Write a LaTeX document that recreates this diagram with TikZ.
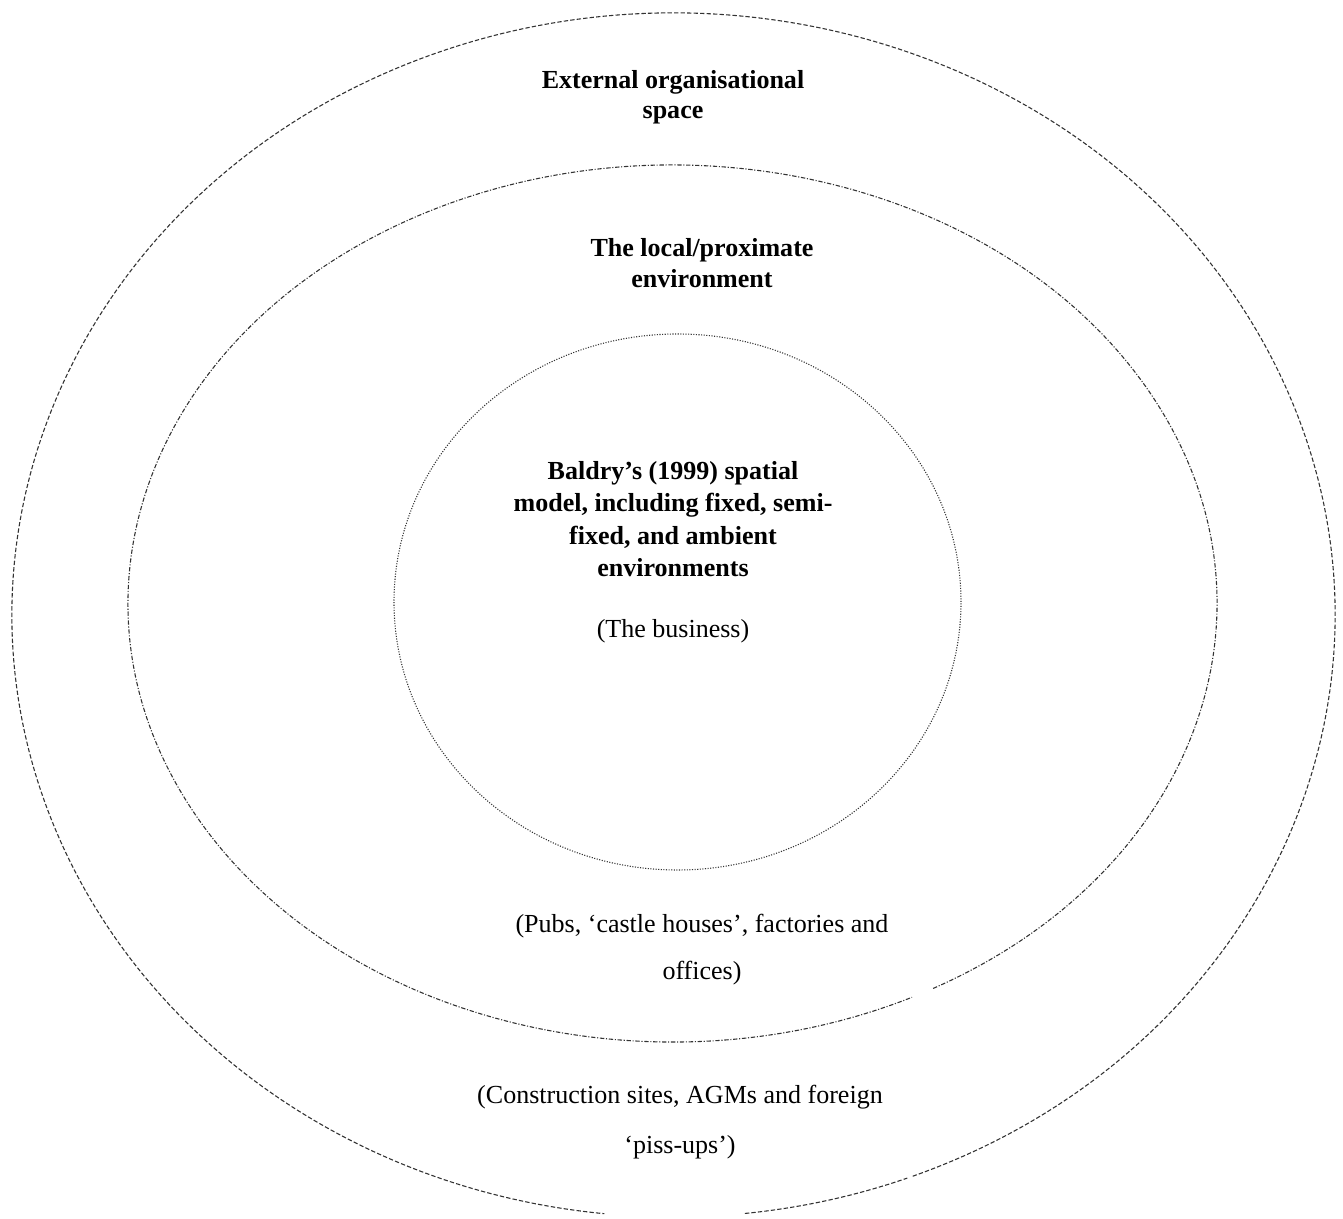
\documentclass[tikz,border=0pt]{standalone}
\usepackage{fontspec}
\setmainfont{Liberation Serif}
\usetikzlibrary{positioning}

\begin{document}
\begin{tikzpicture}[
  x=0.0162cm, y=0.0162cm,
  font=\fontsize{12}{14}\selectfont,
  ring/.style={line width=0.5pt, draw=black!80},
  outerring/.style={ring, dash pattern=on 2pt off 1pt},
  midring/.style={ring, dash pattern=on 2pt off 0.8pt on 0.5pt off 0.8pt},
  innerring/.style={ring, dash pattern=on 0.5pt off 0.7pt},
  head/.style={font=\fontsize{12}{14}\selectfont\bfseries, align=center, inner sep=0pt},
  note/.style={font=\fontsize{12}{22}\selectfont, align=center, inner sep=0pt}
]
\useasboundingbox (0,0) rectangle (1343,1219);

% --- the three nested spaces ---
\draw[outerring] (673.5,604) ++(276.2:661.5 and 602)
  arc[start angle=276.2, end angle=290.7, x radius=661.5, y radius=602];
\draw[outerring] (673.5,604) ++(291.2:661.5 and 602)
  arc[start angle=291.2, end angle=624, x radius=661.5, y radius=602];
\draw[midring] (672.5,615.5) ++(298.6:544.5 and 438.5)
  arc[start angle=298.6, end angle=656.1, x radius=544.5, y radius=438.5];
\draw[innerring] (677.5,617) ellipse[x radius=283.5, y radius=268];

% --- labels, outermost first ---
\node[head] (ext) at (673,1122) {External organisational\\space};
\node[head] (local) at (702,956) {The local/proximate\\environment};
\node[head, font=\fontsize{12}{15}\selectfont\bfseries] (baldry) at (673,700)
  {Baldry’s (1999) spatial\\model, including fixed, semi-\\fixed, and ambient\\environments};
\node[inner sep=0pt] (business) at (673,588) {(The business)};

% examples of each space
\node[note] (pubs) at (702,269.5) {(Pubs, ‘castle houses’, factories and\\offices)};
\node[note, font=\fontsize{12}{23}\selectfont] (sites) at (680,96.5)
  {(Construction sites, AGMs and foreign\\‘piss-ups’)};

\end{tikzpicture}
\end{document}
